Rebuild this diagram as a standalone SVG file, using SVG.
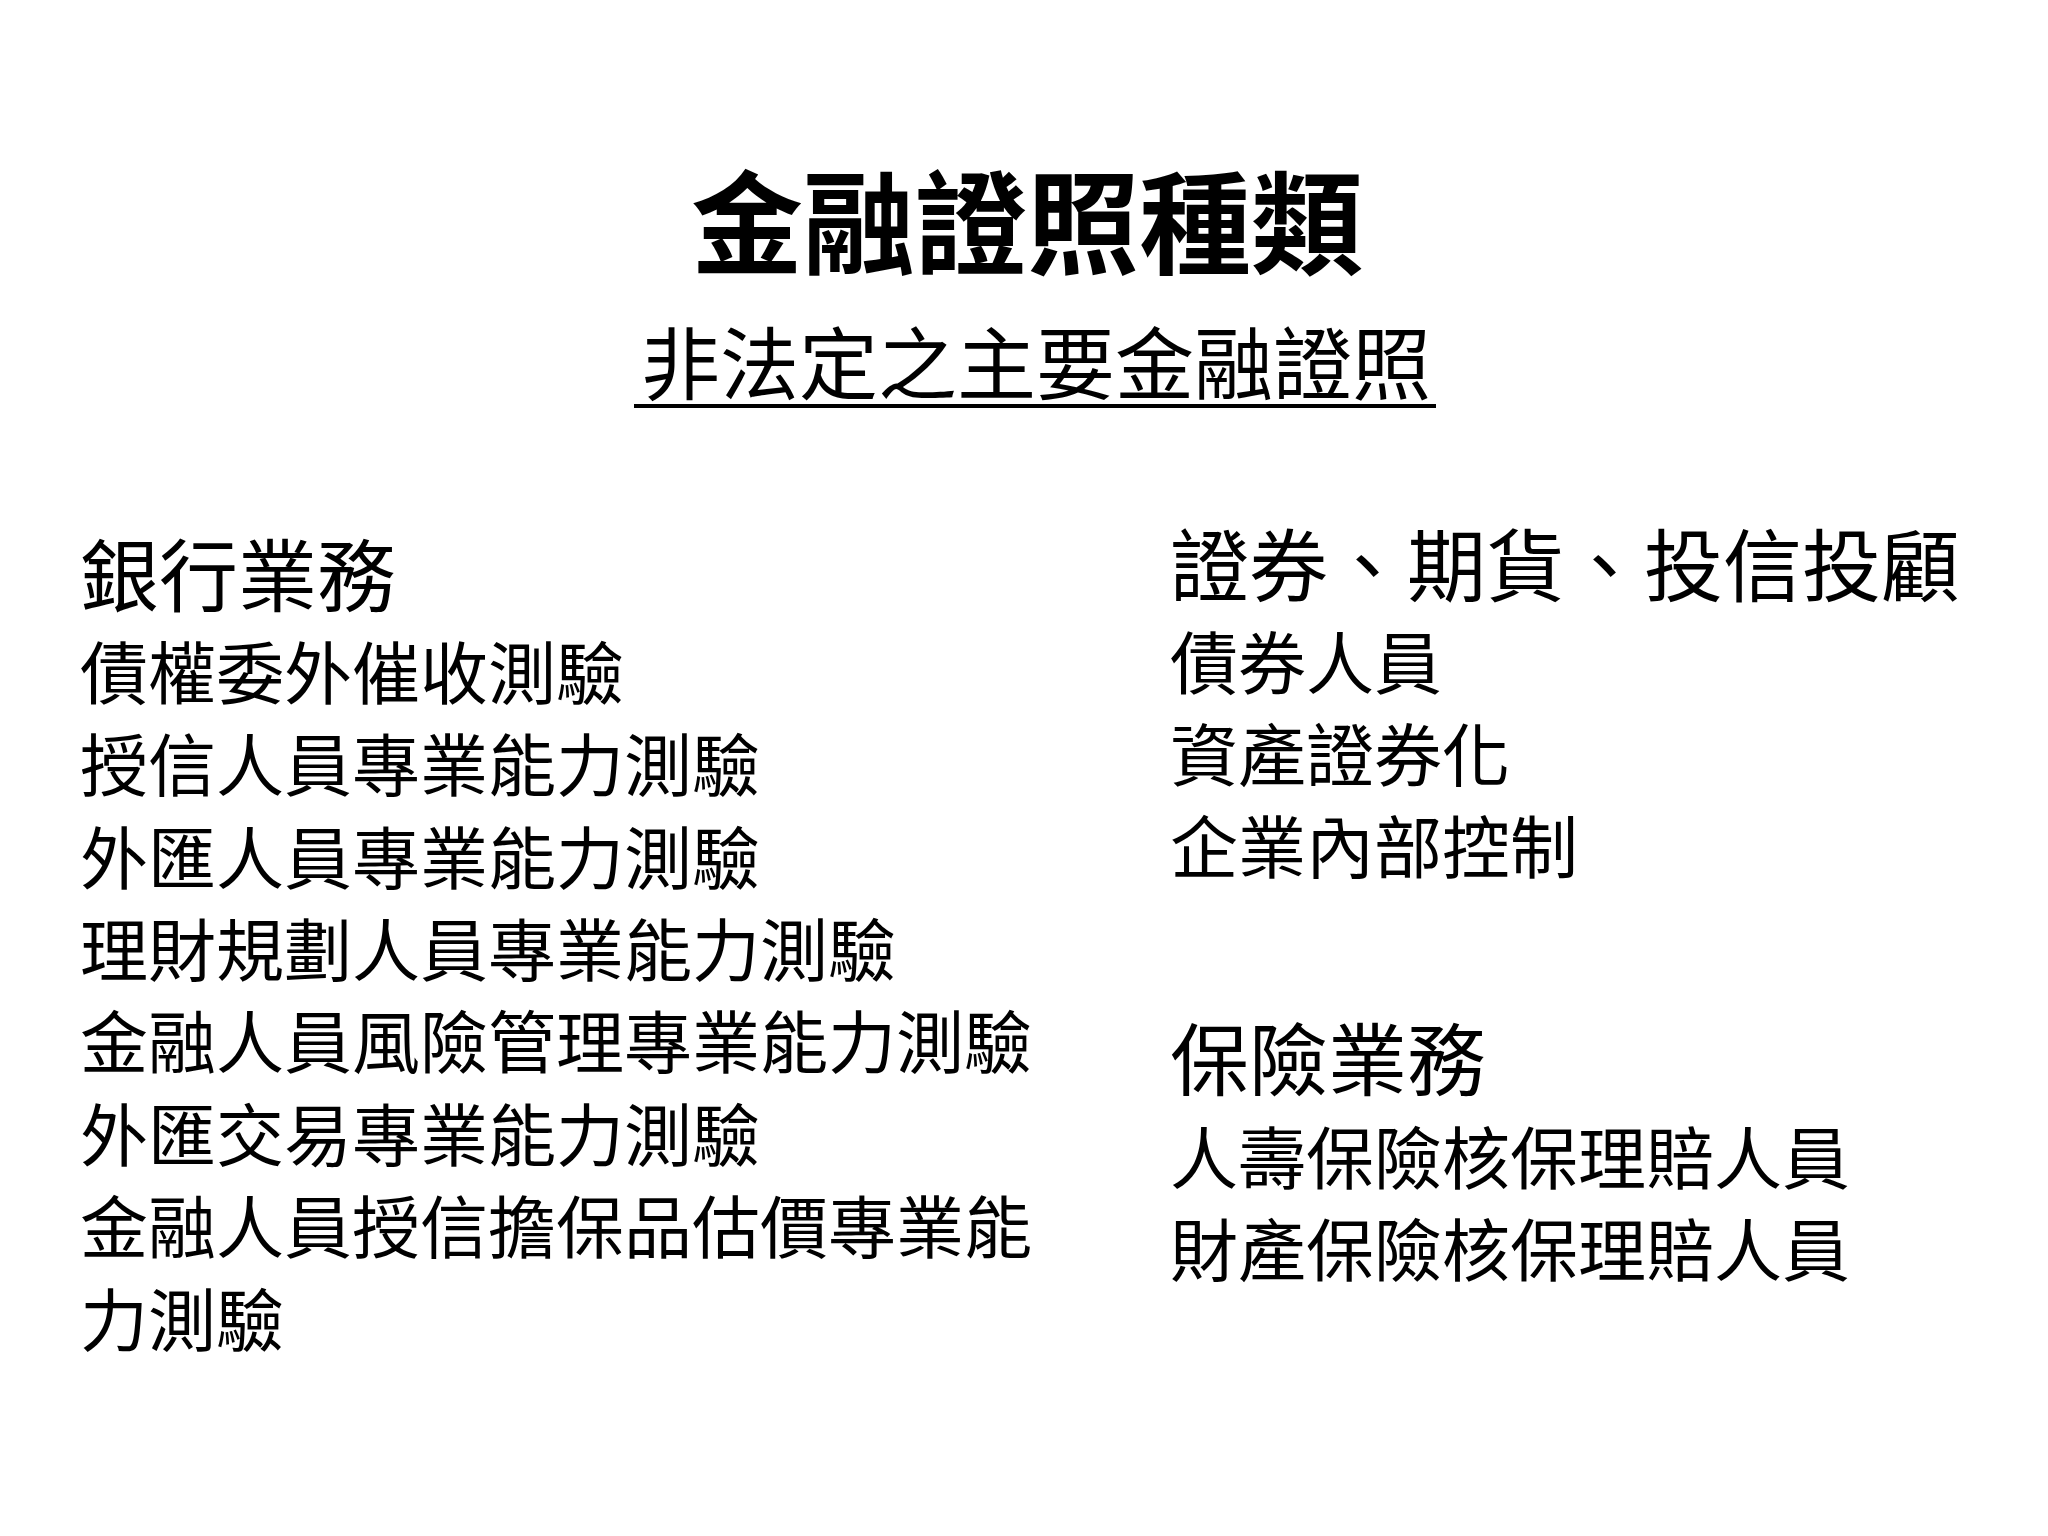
<svg xmlns="http://www.w3.org/2000/svg" width="2048" height="1536" viewBox="0 0 2048 1536">
<style>
text{font-family:"Noto Sans CJK TC","Noto Sans CJK SC",sans-serif;fill:#000}
.h{font-size:79px}
.i{font-size:68px}
</style>
<rect width="2048" height="1536" fill="#fff"/>
<g id="title"><text x="1027" y="266" font-size="112" font-weight="bold" text-anchor="middle">金融證照種類</text></g>
<g id="subtitle"><text x="1036" y="394" font-size="79" text-anchor="middle">非法定之主要金融證照</text>
<line x1="634" y1="406" x2="1436" y2="406" stroke="#000" stroke-width="4"/></g>
<g id="bank">
<text class="h" x="80" y="606">銀行業務</text>
<text class="i" x="80" y="699">債權委外催收測驗</text>
<text class="i" x="80" y="791">授信人員專業能力測驗</text>
<text class="i" x="80" y="884">外匯人員專業能力測驗</text>
<text class="i" x="80" y="976">理財規劃人員專業能力測驗</text>
<text class="i" x="80" y="1068">金融人員風險管理專業能力測驗</text>
<text class="i" x="80" y="1161">外匯交易專業能力測驗</text>
<text class="i" x="80" y="1253">金融人員授信擔保品估價專業能</text>
<text class="i" x="80" y="1346">力測驗</text>
</g>
<g id="securities">
<text class="h" x="1170" y="596">證券、期貨、投信投顧</text>
<text class="i" x="1170" y="689">債券人員</text>
<text class="i" x="1170" y="781">資產證券化</text>
<text class="i" x="1170" y="873">企業內部控制</text>
</g>
<g id="insurance">
<text class="h" x="1170" y="1090">保險業務</text>
<text class="i" x="1170" y="1184">人壽保險核保理賠人員</text>
<text class="i" x="1170" y="1276">財產保險核保理賠人員</text>
</g>
<g id="connectors"/>
</svg>
